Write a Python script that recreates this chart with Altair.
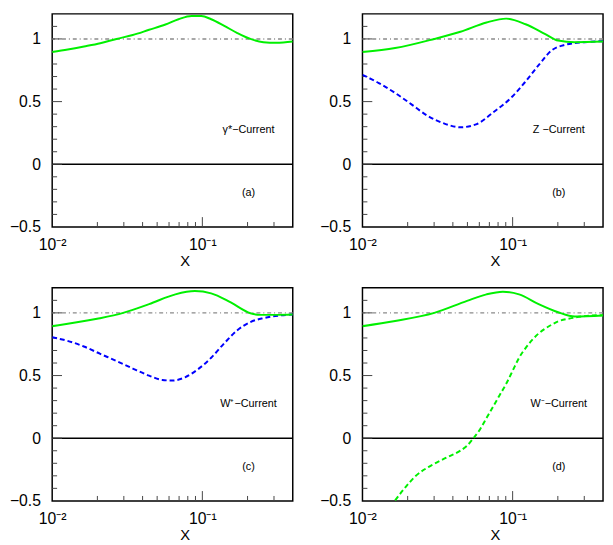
import altair as alt
import pandas as pd

# ---------------- data ----------------
X_DOMAIN = [0.01, 0.4]
Y_DOMAIN = [-0.5, 1.2]

A_SOLID_X = [0.0100, 0.0127, 0.0163, 0.0209, 0.0268, 0.0344, 0.0442, 0.0568, 0.0694, 0.0847, 0.0984, 0.1145, 0.140, 0.171, 0.209, 0.255, 0.311, 0.400]
A_SOLID_Y = [0.896, 0.916, 0.940, 0.966, 1.000, 1.031, 1.073, 1.115, 1.157, 1.183, 1.183, 1.157, 1.104, 1.047, 1.000, 0.974, 0.969, 0.979]

B_SOLID_X = [0.0100, 0.0165, 0.0301, 0.0449, 0.0670, 0.0906, 0.122, 0.165, 0.201, 0.259, 0.400]
B_SOLID_Y = [0.896, 0.927, 1.000, 1.057, 1.131, 1.162, 1.117, 1.039, 0.987, 0.974, 0.979]
B_DASH_X = [0.0100, 0.01285, 0.0165, 0.0212, 0.0272, 0.0349, 0.0449, 0.0577, 0.0741, 0.100, 0.122, 0.149, 0.182, 0.223, 0.301, 0.400]
B_DASH_Y = [0.713, 0.648, 0.569, 0.478, 0.386, 0.326, 0.295, 0.321, 0.413, 0.543, 0.661, 0.791, 0.909, 0.953, 0.974, 0.982]

C_SOLID_X = [0.0100, 0.0199, 0.0297, 0.0442, 0.0661, 0.0891, 0.1145, 0.1546, 0.209, 0.243, 0.311, 0.400]
C_SOLID_Y = [0.894, 0.953, 1.000, 1.070, 1.148, 1.174, 1.156, 1.083, 0.997, 0.984, 0.984, 0.987]
C_DASH_X = [0.0100, 0.01265, 0.01625, 0.0209, 0.0268, 0.0344, 0.0442, 0.0541, 0.0628, 0.0767, 0.0937, 0.1145, 0.140, 0.171, 0.209, 0.255, 0.327, 0.400]
C_DASH_Y = [0.805, 0.777, 0.732, 0.673, 0.616, 0.556, 0.499, 0.465, 0.460, 0.486, 0.551, 0.642, 0.758, 0.862, 0.927, 0.958, 0.979, 0.987]

D_SOLID_X = [0.0100, 0.0165, 0.0301, 0.0497, 0.0670, 0.0861, 0.1104, 0.149, 0.201, 0.259, 0.400]
D_SOLID_Y = [0.894, 0.935, 1.000, 1.096, 1.148, 1.169, 1.148, 1.070, 1.005, 0.971, 0.979]
D_DASH_X = [0.0165, 0.0193, 0.0224, 0.0288, 0.0368, 0.0449, 0.0497, 0.0548, 0.0606, 0.0670, 0.0741, 0.0819, 0.0906, 0.100, 0.1104, 0.122, 0.135, 0.149, 0.165, 0.182, 0.201, 0.246, 0.301, 0.400]
D_DASH_Y = [-0.496, -0.392, -0.306, -0.216, -0.151, -0.099, -0.060, 0.000, 0.070, 0.161, 0.252, 0.343, 0.434, 0.538, 0.642, 0.719, 0.784, 0.836, 0.875, 0.906, 0.932, 0.958, 0.974, 0.982]

CURRENT_LABELS = ["γ*−Current", "Z −Current", "W⁺−Current", "W⁻−Current"]
PANEL_TAGS = ["(a)", "(b)", "(c)", "(d)"]
LABEL_X = [0.203]
CURRENT_Y = [0.275]
TAG_Y = [-0.23]

ZERO_LEVEL = [0.0]
UNIT_LEVEL = [1.0]

Y_LABELS = [-0.5, 0.0, 0.5, 1.0]
Y_MAJOR_TICKS = [0.0, 0.5, 1.0]
Y_MINOR_TICKS = [-0.4, -0.3, -0.2, -0.1, 0.1, 0.2, 0.3, 0.4, 0.6, 0.7, 0.8, 0.9, 1.1]
X_LABELS = [0.01, 0.1]
X_MAJOR_TICKS = [0.1]
X_MINOR_TICKS = [0.02, 0.03, 0.04, 0.05, 0.06, 0.07, 0.08, 0.09, 0.2, 0.3]

# ---------------- styling ----------------
W, H = 245, 217
FONT = "Liberation Sans"
GREEN = "#00f000"
BLUE = "#0000ff"
DASH = [5, 3]

XS = alt.Scale(type="log", domain=X_DOMAIN, nice=False)
YS = alt.Scale(domain=Y_DOMAIN, nice=False, zero=False)

X_AXIS = alt.Axis(values=X_LABELS,
                  labelExpr="datum.value < 0.05 ? '10⁻²' : '10⁻¹'",
                  ticks=False, tickSize=0, domain=False, grid=False,
                  labelFlush=False, labelFontSize=16, labelPadding=10,
                  labelColor="black",
                  title="X", titleFontSize=15, titleFontWeight="normal",
                  titleColor="black", titleX=135, titleY=39,
                  titleAlign="center", titleBaseline="alphabetic")
Y_AXIS = alt.Axis(values=Y_LABELS, format="~g",
                  ticks=False, tickSize=0, domain=False, grid=False,
                  labelFontSize=16, labelPadding=12, labelColor="black",
                  title=None)


def ex(field="x"):
    return alt.X(f"{field}:Q", scale=XS, axis=X_AXIS)


def ey(field="y"):
    return alt.Y(f"{field}:Q", scale=YS, axis=Y_AXIS)


def curve(xv, yv, color, dash=None):
    df = pd.DataFrame({"x": xv, "y": yv})
    kw = dict(color=color, strokeWidth=2, clip=True, interpolate="monotone")
    if dash:
        kw["strokeDash"] = dash
    return alt.Chart(df).mark_line(**kw).encode(x=ex(), y=ey())


def hline(levels, color, dash=None, width=1.5):
    kw = dict(color=color, strokeWidth=width)
    if dash:
        kw["strokeDash"] = dash
    return alt.Chart(pd.DataFrame({"y": levels})).mark_rule(**kw).encode(y=ey())


def yticks(vals, length):
    return alt.Chart(pd.DataFrame({"y": vals})).mark_rule(
        color="#444444", strokeWidth=1).encode(
        y=ey(), x=alt.value(0), x2=alt.value(length))


def xticks(vals, length):
    return alt.Chart(pd.DataFrame({"x": vals})).mark_rule(
        color="#444444", strokeWidth=1).encode(
        x=ex(), y=alt.value(H), y2=alt.value(H - length))


def label(text, yv):
    df = pd.DataFrame({"x": LABEL_X, "y": yv, "t": [text]})
    return alt.Chart(df).mark_text(font=FONT, fontSize=11, color="black",
                                   align="center", baseline="middle").encode(
        x=ex(), y=ey(), text="t:N")


def panel(idx, curves):
    layers = [
        hline(ZERO_LEVEL, "black"),
        hline(UNIT_LEVEL, "#8a8a8a", dash=[4, 3, 1, 3]),
        yticks(Y_MINOR_TICKS, 5), yticks(Y_MAJOR_TICKS, 10),
        xticks(X_MINOR_TICKS, 5), xticks(X_MAJOR_TICKS, 10),
    ]
    layers += curves
    layers += [label(CURRENT_LABELS[idx], CURRENT_Y), label(PANEL_TAGS[idx], TAG_Y)]
    return alt.layer(*layers).properties(width=W, height=H)


pa = panel(0, [curve(A_SOLID_X, A_SOLID_Y, GREEN)])
pb = panel(1, [curve(B_DASH_X, B_DASH_Y, BLUE, dash=DASH),
               curve(B_SOLID_X, B_SOLID_Y, GREEN)])
pc = panel(2, [curve(C_DASH_X, C_DASH_Y, BLUE, dash=DASH),
               curve(C_SOLID_X, C_SOLID_Y, GREEN)])
pd_ = panel(3, [curve(D_DASH_X, D_DASH_Y, GREEN, dash=DASH),
                curve(D_SOLID_X, D_SOLID_Y, GREEN)])

chart = alt.concat(pa, pb, pc, pd_, columns=2,
                   spacing={"row": 62, "column": 71}, bounds="flush").properties(
    padding={"left": 0, "top": 0, "right": 0, "bottom": 0},
    background="white",
).configure_view(stroke="black", strokeWidth=1.5).configure_axis(
    labelFont=FONT, titleFont=FONT)

chart.save("out.html", embed_options={"renderer": "svg", "actions": False})
